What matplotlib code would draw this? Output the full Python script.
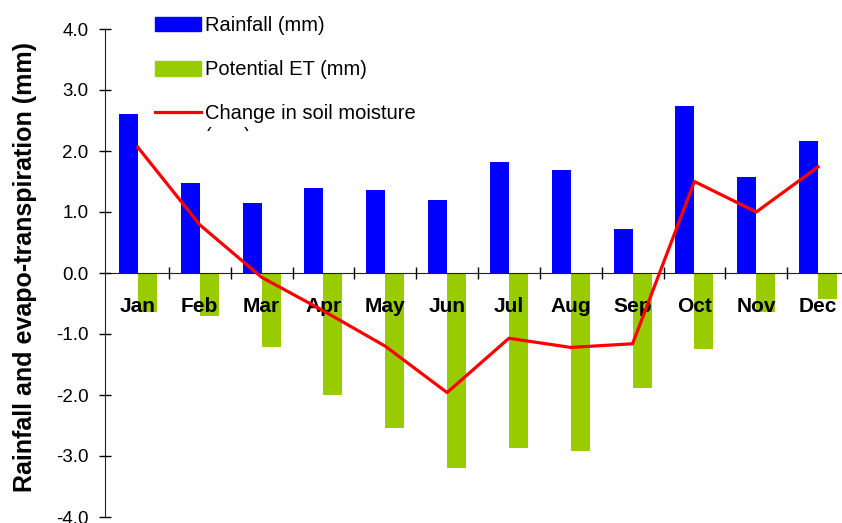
import numpy as np
import matplotlib
matplotlib.use("Agg")
import matplotlib.pyplot as plt
from matplotlib.patches import Patch
from matplotlib.lines import Line2D
from matplotlib.transforms import Bbox

months = ['Jan', 'Feb', 'Mar', 'Apr', 'May', 'Jun',
          'Jul', 'Aug', 'Sep', 'Oct', 'Nov', 'Dec']
rainfall = [2.61, 1.47, 1.15, 1.39, 1.36, 1.19, 1.82, 1.69, 0.72, 2.74, 1.57, 2.16]
potential_et = [-0.64, -0.70, -1.22, -2.00, -2.54, -3.19, -2.87, -2.91, -1.88, -1.25, -0.64, -0.42]
soil_moisture = [2.06, 0.79, -0.07, -0.62, -1.20, -1.96, -1.07, -1.22, -1.16, 1.50, 1.00, 1.74]

plt.rcParams['font.family'] = ['Liberation Sans', 'DejaVu Sans']
plt.rcParams['axes.unicode_minus'] = False

W, H = 842, 523
fig = plt.figure(figsize=(W / 100, H / 100), dpi=100)
# plot area runs past the right edge of the figure, like the original sheet
ax = fig.add_axes([105 / W, 1 - 517 / H, (849 - 105) / W, (517 - 29) / H])

# spines first: moving a spine resets the ticks
for s in ['top', 'right']:
    ax.spines[s].set_visible(False)
ax.spines['bottom'].set_position(('data', 0))
ax.spines['bottom'].set_color('#222222')
ax.spines['left'].set_color('#222222')

x = np.arange(len(months))
bw = 0.307
ax.bar(x - bw / 2, rainfall, bw, color='#0000FF', zorder=1)
ax.bar(x + bw / 2, potential_et, bw, color='#99CC00', zorder=1)
ax.plot(x, soil_moisture, color='#FF0000', lw=2.3, zorder=4)

ax.set_xlim(-0.5 - 2 / 61.8, 11.5)
ax.set_ylim(-4, 4)
yt = np.arange(-4, 4.1, 1)
ax.set_yticks(yt, ['%.1f' % v for v in yt])

# category boundaries get the tick marks, month names sit in between
ax.set_xticks(np.arange(0.5, 11, 1), [])
ax.set_xticks(x, months, minor=True)
ax.tick_params(axis='x', which='major', direction='inout', length=9, width=1)
ax.tick_params(axis='x', which='minor', length=0, pad=17, labelsize=15)
ax.tick_params(axis='y', direction='inout', length=8, width=1, pad=8, labelsize=13.5)
for lbl in ax.get_xticklabels(minor=True):
    lbl.set_fontweight('bold')
ax.xaxis.set_zorder(3)
ax.yaxis.set_zorder(3)

fig.text(25 / W, 1 - 267 / H, 'Rainfall and evapo-transpiration (mm)',
         rotation=90, fontsize=18, fontweight='bold', ha='center', va='center')

handles = [Patch(color='#0000FF'), Patch(color='#99CC00'),
           Line2D([], [], color='#FF0000', lw=2.3)]
labels = ['Rainfall (mm)', 'Potential ET (mm)', 'Change in soil moisture']
ax.legend(handles, labels, loc='upper left', bbox_to_anchor=(155 / W, 1 - 16 / H),
          bbox_transform=fig.transFigure, frameon=False, fontsize=14.5,
          borderpad=0, borderaxespad=0, handlelength=2.3, handletextpad=0.2,
          labelspacing=1.25, handleheight=0.75)

# wrapped second line of the last legend entry, cut off by the legend box
mm = fig.text(205 / W, 1 - 136 / H, '(mm)', fontsize=14.5, va='center', ha='left')
mm.set_clip_box(Bbox.from_extents(0, 523 - 131, W, H))
mm.set_clip_on(True)

fig.savefig('out.png', dpi=100)
